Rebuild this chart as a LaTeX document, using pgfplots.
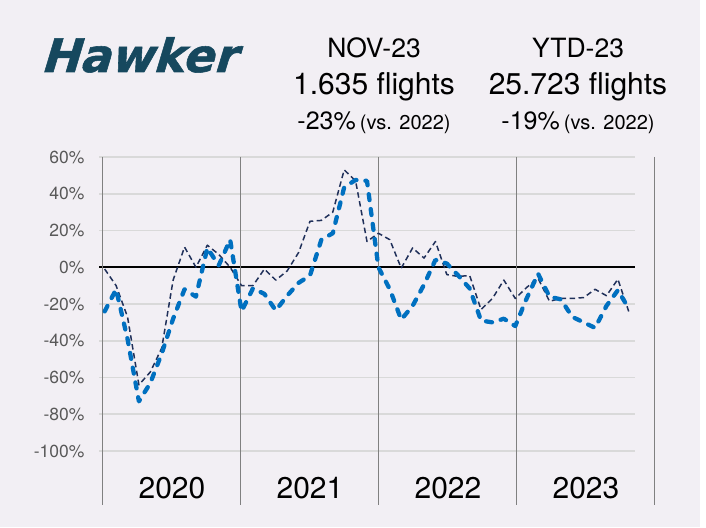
\documentclass[border=0pt]{standalone}
\usepackage{pgfplots}
\pgfplotsset{compat=1.18}
\usepackage{pgfplotstable}
\usepackage{graphicx}
\usepackage{fontspec}
\setmainfont{TeX Gyre Heros}
\newfontfamily\logofont{DejaVu Sans}[BoldFeatures={FakeSlant=0.3,FakeBold=1.2}]
\definecolor{bg}{RGB}{242,239,244}
\definecolor{logoc}{RGB}{22,72,94}
\definecolor{blueL}{RGB}{0,112,192}
\definecolor{navy}{RGB}{32,48,90}
\definecolor{gridc}{RGB}{217,217,217}
\definecolor{sepc}{RGB}{128,128,128}
\definecolor{tickc}{RGB}{89,89,89}

\pgfplotstableread{
i dark blue
0 -1 -24
1 -10 -12
2 -27 -39
3 -64 -73
4 -57 -63
5 -44 -47
6 -7 -28
7 11 -12
8 0 -16
9 12 10.5
10 7 1
11 0 15
12 -10 -24
13 -10 -11.5
14 -1 -14.5
15 -7 -23.5
16 -2 -15.5
17 8 -8.5
18 25 -4.5
19 25.5 15
20 30 18.5
21 53 43.5
22 47 47.5
23 14 47
24 18.5 0
25 15 -12
26 -0.5 -28.5
27 10.5 -21
28 5 -9.5
29 14 4
30 -4 2
31 -5 -4.5
32 -4.5 -11.5
33 -23 -29
34 -17 -30
35 -7 -28
36 -17 -32
37 -11 -17
38 -6 -3.5
39 -18.5 -16
40 -17 -17.5
41 -17 -27
42 -16.5 -30
43 -12 -33
44 -15.5 -21
45 -6.5 -12.5
46 -25 -23
}\data

\begin{document}
\begin{tikzpicture}[x=1pt,y=1pt]
\path[use as bounding box] (0,0) rectangle (706,527);
\fill[white] (0,0) rectangle (706,527);
\fill[bg] (0,0) rectangle (700,527);
% logo
\node[anchor=base, text=logoc, inner sep=0] at (138,455) {\logofont\bfseries\fontsize{46}{50}\selectfont Hawker};
% header texts
\node[anchor=base, inner sep=0] at (374,469.7) {\fontsize{26.5}{30}\selectfont NOV-23};
\node[anchor=base, inner sep=0] at (374,432) {\fontsize{30}{34}\selectfont 1.635 flights};
\node[anchor=base, inner sep=0] at (374,397) {\fontsize{25}{28}\selectfont -23\%\,{\fontsize{20}{22}\selectfont(vs. 2022)}};
\node[anchor=base, inner sep=0] at (578,469.7) {\fontsize{26.5}{30}\selectfont YTD-23};
\node[anchor=base, inner sep=0] at (578,432) {\fontsize{30}{34}\selectfont 25.723 flights};
\node[anchor=base, inner sep=0] at (578,397) {\fontsize{25}{28}\selectfont -19\%\,{\fontsize{20}{22}\selectfont(vs. 2022)}};

\begin{axis}[
  at={(99pt,76pt)}, anchor=south west,
  width=536pt, height=294pt, scale only axis,
  xmin=-0.5, xmax=46.5, ymin=-100, ymax=60,
  axis line style={draw=none},
  xtick=\empty,
  ytick={-100,-80,-60,-40,-20,0,20,40,60},
  yticklabels={-100\%,-80\%,-60\%,-40\%,-20\%,0\%,20\%,40\%,60\%},
  ymajorgrids,
  grid style={gridc, line width=1.6pt},
  major tick length=0pt,
  yticklabel style={font=\fontsize{17.5}{20}\selectfont, text=tickc, xshift=-11pt},
  clip=false,
]
\draw[black, line width=1.9pt] (axis cs:-0.5,0) -- (axis cs:46.5,0);
\draw[sepc, line width=1pt] (axis cs:-0.15,60) -- (axis cs:-0.15,-129.3);
\draw[sepc, line width=1pt] (axis cs:11.95,60) -- (axis cs:11.95,-129.3);
\draw[sepc, line width=1pt] (axis cs:24.05,60) -- (axis cs:24.05,-129.3);
\draw[sepc, line width=1pt] (axis cs:36.15,60) -- (axis cs:36.15,-129.3);
\draw[sepc, line width=1pt] (axis cs:48.25,60) -- (axis cs:48.25,-129.3);
\node[anchor=base, inner sep=0, font=\fontsize{30}{34}\selectfont] at (axis cs:5.9,-125.7) {2020};
\node[anchor=base, inner sep=0, font=\fontsize{30}{34}\selectfont] at (axis cs:18.0,-125.7) {2021};
\node[anchor=base, inner sep=0, font=\fontsize{30}{34}\selectfont] at (axis cs:30.1,-125.7) {2022};
\node[anchor=base, inner sep=0, font=\fontsize{30}{34}\selectfont] at (axis cs:42.2,-125.7) {2023};
\addplot[navy, mark=none, line width=1.5pt, dash pattern=on 5.5pt off 3.5pt, line join=round] table[x=i,y=dark]{\data};
\addplot[blueL, mark=none, line width=4.3pt, dash pattern=on 6pt off 9pt, line cap=round, line join=round] table[x=i,y=blue]{\data};
\end{axis}
\end{tikzpicture}
\end{document}
